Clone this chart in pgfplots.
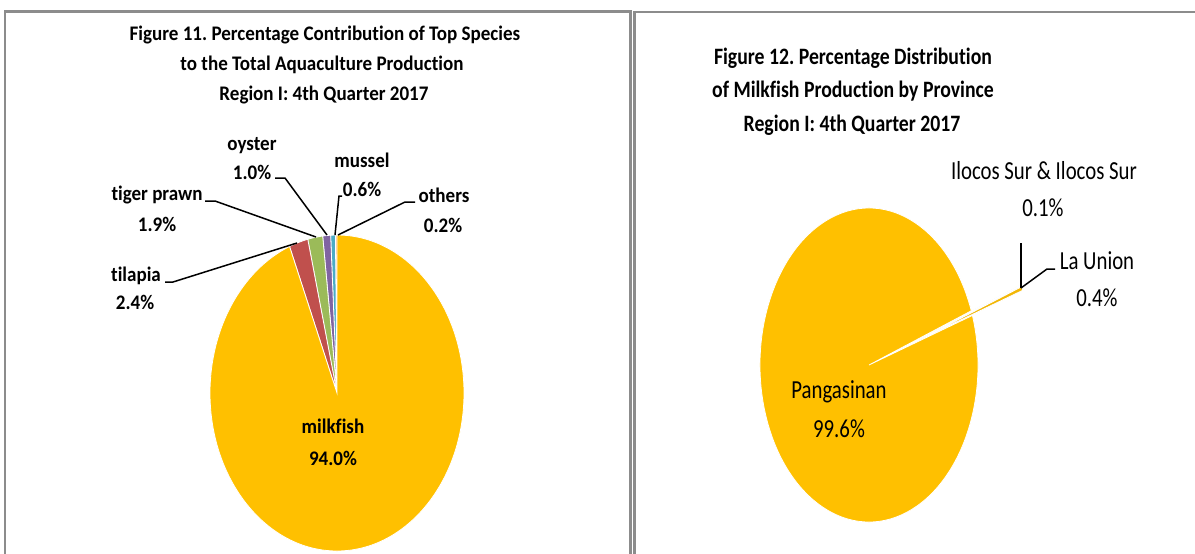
\documentclass[border=0pt]{standalone}
\usepackage{pgfplots}
\pgfplotsset{compat=1.18}
\usepackage{pgfplotstable}
\usepackage{fontspec}
\setmainfont{Carlito}[Ligatures={NoCommon}]
\newfontfamily\fA{Carlito}[FakeStretch=0.92, Ligatures={NoCommon}]
\newfontfamily\fT{Carlito}[FakeStretch=0.84, Ligatures={NoCommon}]
\newfontfamily\fB{Carlito}[FakeStretch=0.80, Ligatures={NoCommon}]
\frenchspacing
\definecolor{cMilk}{HTML}{FFC000}
\definecolor{cTil}{HTML}{C0504D}
\definecolor{cTig}{HTML}{9BBB59}
\definecolor{cOys}{HTML}{8064A2}
\definecolor{cMus}{HTML}{4BACC6}
\definecolor{cOth}{HTML}{F79646}
\definecolor{cLaU}{HTML}{F2B705}
\definecolor{cIlo}{HTML}{B7D3EA}
\definecolor{frame}{HTML}{8C8C8C}

% percentage contribution of top species (Figure 11)
\pgfplotstableread{
label pct color explode
milkfish 94.0 cMilk 0
tilapia 2.4 cTil 0
tigerprawn 1.9 cTig 0
oyster 1.0 cOys 0
mussel 0.6 cMus 0
others 0.2 cOth 0
}\speciesdata

% milkfish production by province (Figure 12)
\pgfplotstableread{
label pct color explode
Pangasinan 99.6 cMilk 0
LaUnion 0.4 cLaU 0.487
IlocosSur 0.1 cIlo 0.487
}\provincedata

% #1 table, #2 cx, #3 cy (pixel rows), #4 rx, #5 ry, #6 start angle, #7 direction (+1 ccw, -1 cw)
\newcommand\drawpie[7]{%
  \pgfplotstablegetrowsof{#1}%
  \pgfmathtruncatemacro\pielast{\pgfplotsretval-1}%
  \def\pietotal{0}%
  \pgfplotsforeachungrouped \i in {0,...,\pielast}{%
    \pgfplotstablegetelem{\i}{pct}\of#1%
    \pgfmathsetmacro\pietotal{\pietotal+\pgfplotsretval}}%
  \def\pieacc{#6}%
  \pgfplotsforeachungrouped \i in {0,...,\pielast}{%
    \pgfplotstablegetelem{\i}{pct}\of#1\let\pieval\pgfplotsretval
    \pgfmathsetmacro\pieend{\pieacc+#7*\pieval/\pietotal*360}%
    \expandafter\xdef\csname pieS\i\endcsname{\pieacc}%
    \expandafter\xdef\csname pieE\i\endcsname{\pieend}%
    \let\pieacc\pieend}%
  \pgfplotsforeachungrouped \i in {\pielast,...,0}{%
    \pgfplotstablegetelem{\i}{color}\of#1\let\piecol\pgfplotsretval
    \pgfplotstablegetelem{\i}{explode}\of#1\let\pieexp\pgfplotsretval
    \edef\ps{\csname pieS\i\endcsname}%
    \edef\pe{\csname pieE\i\endcsname}%
    \pgfmathsetmacro\pmid{(\ps+\pe)/2}%
    \pgfmathsetmacro\pcx{#2+\pieexp*#4*cos(\pmid)}%
    \pgfmathsetmacro\pcy{#3-\pieexp*#5*sin(\pmid)}%
    \edef\cmd{\noexpand\fill[\piecol, draw=white, line width=0.8bp]
      (axis cs:\pcx,\pcy) -- ++(\ps:#4bp and #5bp)
      arc[start angle=\ps, end angle=\pe, x radius=#4bp, y radius=#5bp] -- cycle;}%
    \cmd}%
}

\begin{document}
\begin{tikzpicture}
\useasboundingbox (0,0) rectangle (1195bp,554bp);
% ---------------- Figure 11 ----------------
\begin{axis}[
  at={(0,0)}, anchor=south west, scale only axis,
  x=1bp, y=1bp, xmin=0, xmax=633, ymin=0, ymax=554, y dir=reverse,
  hide axis, clip=false]
  \draw[frame, line width=2.5bp] (axis cs:5,554) -- (axis cs:5,11.5) -- (axis cs:630.5,11.5) -- (axis cs:630.5,554);
  \drawpie{\speciesdata}{337}{393}{127}{158}{90}{-1}
  \begin{scope}[font=\fA\bfseries\fontsize{20.7bp}{24bp}\selectfont]
  \node[anchor=base] at (axis cs:325,40.7) {Figure 11. Percentage Contribution of Top Species};
  \node[anchor=base] at (axis cs:322,70) {to the Total Aquaculture Production};
  \node[anchor=base] at (axis cs:324,100) {Region I: 4th Quarter 2017};
  \node[anchor=base] at (axis cs:333,433) {milkfish};
  \node[anchor=base] at (axis cs:333,465) {94.0\%};
  \node[anchor=base] at (axis cs:136,281) {tilapia};
  \node[anchor=base] at (axis cs:135,309) {2.4\%};
  \node[anchor=base] at (axis cs:157,200) {tiger prawn};
  \node[anchor=base] at (axis cs:157,231) {1.9\%};
  \node[anchor=base] at (axis cs:252,150) {oyster};
  \node[anchor=base] at (axis cs:252,179) {1.0\%};
  \node[anchor=base] at (axis cs:362,167) {mussel};
  \node[anchor=base] at (axis cs:362,196) {0.6\%};
  \node[anchor=base] at (axis cs:444,202) {others};
  \node[anchor=base] at (axis cs:443,232) {0.2\%};
  \end{scope}
  \begin{scope}[black, line width=1.5bp]
  \draw (axis cs:165,282) -- (axis cs:173,282) -- (axis cs:297,243);
  \draw (axis cs:205,201) -- (axis cs:215,201) -- (axis cs:316,237);
  \draw (axis cs:275,178) -- (axis cs:285,178) -- (axis cs:327,235);
  \draw (axis cs:342,196) -- (axis cs:339,196) -- (axis cs:335,235);
  \draw (axis cs:415,202) -- (axis cs:405,202) -- (axis cs:338,235);
  \end{scope}
\end{axis}
% ---------------- Figure 12 ----------------
\begin{axis}[
  at={(633bp,0)}, anchor=south west, scale only axis,
  x=1bp, y=1bp, xmin=633, xmax=1195, ymin=0, ymax=554, y dir=reverse,
  hide axis, clip=false]
  \draw[frame, line width=2.5bp] (axis cs:634.5,554) -- (axis cs:634.5,12) -- (axis cs:1195,12);
  \drawpie{\provincedata}{869}{365}{109}{157}{20.2}{1}
  \begin{scope}[font=\fT\bfseries\fontsize{23.5bp}{27bp}\selectfont]
  \node[anchor=base] at (axis cs:853,64) {Figure 12. Percentage Distribution};
  \node[anchor=base] at (axis cs:853,97) {of Milkfish Production by Province};
  \node[anchor=base] at (axis cs:852,131) {Region I: 4th Quarter 2017};
  \end{scope}
  \begin{scope}[font=\fB\fontsize{26bp}{30bp}\selectfont]
  \node[anchor=base] at (axis cs:839,398) {Pangasinan};
  \node[anchor=base] at (axis cs:839,437) {99.6\%};
  \node[anchor=base] at (axis cs:1044,179) {Ilocos Sur \& Ilocos Sur};
  \node[anchor=base] at (axis cs:1043,216) {0.1\%};
  \node[anchor=base] at (axis cs:1097,269) {La Union};
  \node[anchor=base] at (axis cs:1097,306) {0.4\%};
  \end{scope}
  \begin{scope}[black, line width=1.5bp]
  \draw (axis cs:1055,269) -- (axis cs:1047,269) -- (axis cs:1021,288);
  \draw (axis cs:1021,243) -- (axis cs:1021,288);
  \end{scope}
\end{axis}
\end{tikzpicture}
\end{document}
